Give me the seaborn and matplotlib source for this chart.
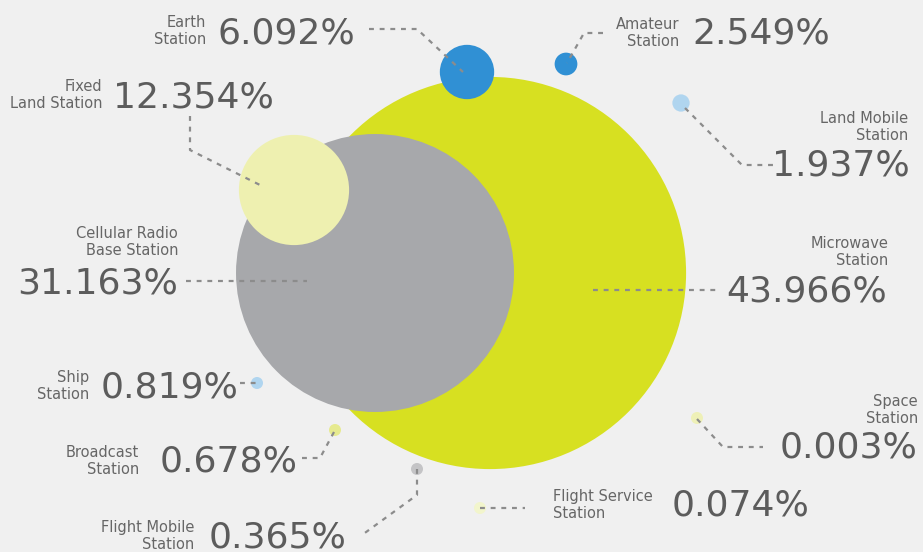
import matplotlib
matplotlib.use("Agg")
import matplotlib.pyplot as plt
import seaborn as sns
import pandas as pd

# Données : part de chaque type de station (%)
stations = ["Microwave\nStation", "Cellular Radio\nBase Station", "Fixed\nLand Station",
            "Earth\nStation", "Amateur\nStation", "Land Mobile\nStation", "Ship\nStation",
            "Broadcast\nStation", "Flight Mobile\nStation", "Space\nStation",
            "Flight Service\nStation"]
shares = [43.966, 31.163, 12.354, 6.092, 2.549, 1.937, 0.819, 0.678, 0.365, 0.003, 0.074]

# Mise en page (coordonnées en pixels de la figure)
bubble_x = [490, 375, 294, 467, 566, 681, 257, 335, 417, 697, 480]
bubble_y = [273, 273, 190, 72, 64, 103, 383, 430, 469, 418, 508]
colors = ["#d7e021", "#a7a8ab", "#eef0b0", "#3090d4", "#3090d4", "#b0d5ef", "#b0d5ef",
          "#e6ea8f", "#c4c4c6", "#eef0b7", "#f2f5cc"]

num_pos = [(887, 290, "right"), (178, 283, "right"), (113, 96, "left"), (218, 32, "left"),
           (692, 33, "left"), (910, 165, "right"), (101, 386, "left"), (160, 461, "left"),
           (209, 537, "left"), (918, 447, "right"), (672, 505, "left")]
lab_pos = [(888, 252, "right"), (178, 242, "right"), (102, 95, "right"), (206, 31, "right"),
           (679, 33, "right"), (908, 127, "right"), (89, 386, "right"), (139, 461, "right"),
           (194, 536, "right"), (918, 410, "right"), (553, 505, "left")]
leaders = [
    [(593, 290), (717, 290)],
    [(186, 281), (307, 281)],
    [(190, 116), (190, 150), (262, 186)],
    [(369, 29), (417, 29), (463, 72)],
    [(603, 33), (584, 33), (567, 63)],
    [(685, 108), (742, 165), (773, 165)],
    [(240, 383), (257, 383)],
    [(302, 458), (320, 458), (334, 432)],
    [(417, 469), (417, 495), (362, 535)],
    [(697, 419), (723, 447), (763, 447)],
    [(480, 508), (525, 508)],
]

W, H, DPI = 923, 552, 100
radius = [max(v * 4.46, 6) for v in shares]
df = pd.DataFrame({"station": stations, "share": shares, "x": bubble_x, "y": bubble_y,
                   "s": [(2 * r * 72 / DPI) ** 2 for r in radius]})

fig = plt.figure(figsize=(W / DPI, H / DPI), dpi=DPI)
fig.patch.set_facecolor("#f0f0f0")
ax = fig.add_axes([0, 0, 1, 1])
ax.set_facecolor("#f0f0f0")

sns.scatterplot(data=df, x="x", y="y", hue="station", palette=dict(zip(stations, colors)),
                s=df["s"].values, linewidth=0, alpha=1, legend=False, ax=ax, zorder=2)

for pts in leaders:
    xs, ys = zip(*pts)
    ax.plot(xs, ys, color="#8c8c8c", lw=1.6, ls=(0, (2.2, 2.6)), zorder=3)

for name, v, (nx, ny, nha), (lx, ly, lha) in zip(stations, shares, num_pos, lab_pos):
    ax.text(nx, ny + 11, f"{v:.3f}%", ha=nha, va="baseline", fontsize=26,
            color="#5c5c5c", family="DejaVu Sans", zorder=4)
    ax.text(lx, ly, name, ha=lha, va="center", fontsize=10.5, color="#666666",
            family="DejaVu Sans", linespacing=1.15, multialignment=lha, zorder=4)

ax.set_xlim(0, W)
ax.set_ylim(H, 0)
ax.axis("off")
fig.savefig("out.png", dpi=DPI, facecolor=fig.get_facecolor())
